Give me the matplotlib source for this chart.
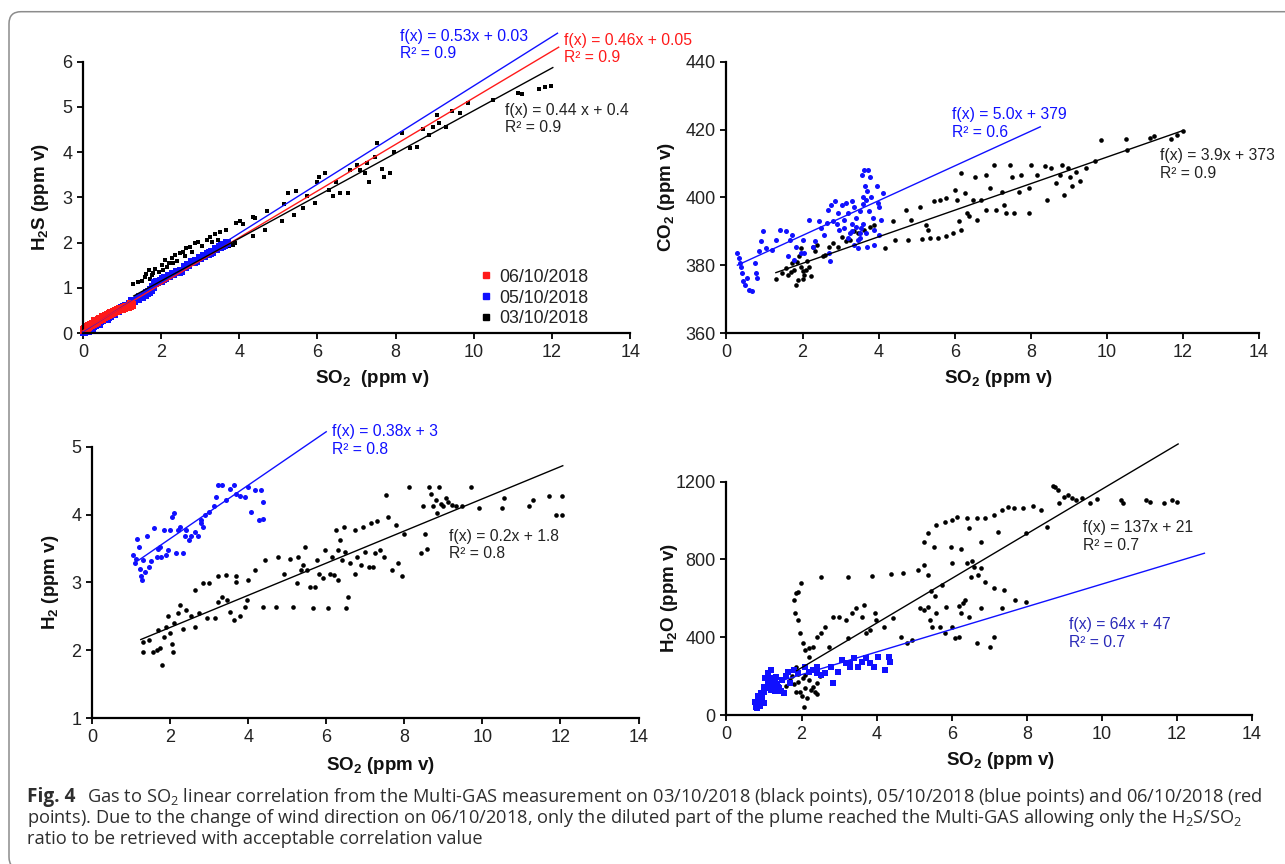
import matplotlib
matplotlib.use('Agg')
import matplotlib.pyplot as plt
from matplotlib.patches import FancyBboxPatch
from matplotlib.lines import Line2D
import numpy as np

# ---------------- data ----------------
h2s_black_pts = [(1.29,1.08),(1.42,1.13),(1.50,1.15),(1.59,1.24),(1.68,1.39),(1.76,1.28),(1.85,1.42),(1.94,1.35),
                 (2.02,1.50),(2.10,1.61),(2.19,1.54),(2.27,1.65),(2.36,1.72),(2.48,1.76),(2.57,1.79),(2.65,1.87),
                 (2.74,1.90),(2.87,1.98),(2.95,2.01),(3.17,2.05),(3.25,2.12),(3.38,2.20),(3.50,2.23),(3.67,2.27),
                 (3.84,1.94),(3.90,1.98),(3.75,1.92),(1.62,1.30),(1.72,1.20),(1.80,1.33),(2.05,1.40),(2.15,1.45),
                 (2.30,1.55),(2.40,1.60),(2.60,1.70),(2.80,1.80),(3.05,1.92),(3.30,2.02),(3.45,2.05),(3.92,2.43),
                 (4.03,2.47),(4.10,2.42),(4.35,2.14),(4.36,2.57),(4.40,2.55),(4.66,2.27),(4.72,2.69),(5.09,2.47),
                 (5.14,2.86),(5.25,3.09),(5.41,2.61),(5.46,3.13),(5.62,2.76),(5.73,3.02),(5.94,2.87),(6.00,3.35),
                 (6.05,3.46),(6.20,3.54),(6.30,3.17),(6.40,3.02),(6.47,3.35),(6.57,3.09),(6.79,3.09),(6.84,3.61),
                 (7.00,3.72),(7.10,3.61),(7.21,3.54),(7.26,3.76),(7.32,3.33),(7.48,3.90),(7.53,4.20),(7.64,3.62),
                 (7.69,3.46),(7.85,3.54),(7.95,4.01),(8.17,4.42),(8.38,4.09),(8.54,4.12),(8.70,4.51),(8.86,4.38),
                 (8.96,4.56),(9.07,4.82),(9.12,4.64),(9.28,4.56),(9.44,4.90),(9.65,4.86),(9.86,5.08),(10.50,5.15),
                 (11.13,5.30),(11.24,5.28),(11.66,5.39),(11.82,5.43),(11.98,5.47)]
h2s_blue_x = [0.03,0.05,0.08,0.10,0.15,0.20,0.25,0.30,0.35,0.40,0.45,0.50,0.55,0.60,0.65,0.70,0.75,0.80,0.90,1.00,
              1.10,1.20,1.30,1.40,1.50,1.60,1.70,1.75,1.80,1.85,1.90,2.00,2.10,2.20,2.30,2.40,2.50,2.60,2.70,2.80,
              2.90,3.00,3.10,3.20,3.30,3.40,3.50,3.60,3.68,0.12,0.22,0.42,0.62,1.05,1.25,1.45,1.65,2.05,2.45,2.85,3.25,3.55]
h2s_blue_y = [0.03,0.05,0.06,0.08,0.10,0.13,0.15,0.18,0.21,0.23,0.26,0.28,0.31,0.33,0.36,0.38,0.41,0.43,0.48,0.55,
              0.60,0.65,0.70,0.76,0.80,0.85,0.90,0.95,1.02,1.10,1.12,1.16,1.21,1.26,1.30,1.34,1.38,1.45,1.50,1.56,
              1.60,1.65,1.70,1.75,1.80,1.86,1.90,1.95,1.98,0.04,0.10,0.20,0.30,0.58,0.71,0.79,0.88,1.20,1.36,1.58,1.78,1.93]
h2s_red_x = [0.02,0.05,0.08,0.10,0.15,0.20,0.25,0.30,0.35,0.40,0.45,0.50,0.55,0.60,0.65,0.70,0.75,0.80,0.85,0.90,
             0.95,1.00,1.05,1.10,1.15,1.20,1.22,1.25,0.12,0.32,0.52,0.72]
h2s_red_y = [0.06,0.08,0.10,0.12,0.15,0.17,0.20,0.22,0.25,0.28,0.30,0.32,0.35,0.38,0.40,0.42,0.45,0.46,0.48,0.50,
             0.52,0.53,0.55,0.57,0.58,0.60,0.65,0.62,0.14,0.26,0.36,0.45]

co2_blue_pts = [(0.29,383.6),(0.32,382.1),(0.35,380.6),(0.38,379.6),(0.41,377.7),(0.43,375.2),(0.49,374.2),(0.54,376.2),
                (0.59,372.8),(0.67,372.3),(0.74,380.6),(0.78,377.7),(0.81,376.2),(0.86,384.1),(0.92,387.0),(0.95,390.0),
                (1.03,385.1),(1.19,384.6),(1.30,387.5),(1.41,390.5),(1.57,390.0),(1.62,382.6),(1.68,387.5),(1.73,389.0),
                (1.78,381.6),(1.84,385.5),(1.95,383.6),(2.00,387.5),(2.05,383.6),(2.16,393.4),(2.27,385.5),(2.32,387.0),
                (2.43,392.9),(2.49,390.9),(2.57,389.0),(2.65,392.4),(2.70,383.6),(2.73,381.1),(2.68,396.3),(2.76,397.8),
                (2.86,398.8),(2.92,395.4),(2.97,390.5),(3.03,397.8),(3.08,393.4),(3.14,398.3),(3.19,395.4),(3.24,389.4),
                (3.30,398.8),(3.35,397.3),(3.41,391.4),(3.46,387.5),(3.51,389.4),(3.57,406.6),(3.62,408.1),(3.65,403.2),
                (3.68,399.3),(3.70,385.5),(3.73,408.1),(3.78,406.1),(3.84,393.9),(3.89,390.5),(3.95,403.2),(3.98,398.3),
                (4.02,397.3),(4.05,393.4),(4.11,401.2),(4.00,389.0),(3.89,386.0),(3.68,389.4),(3.30,392.0),(3.40,394.0),
                (3.50,396.0),(3.55,391.0),(3.60,398.0),(3.20,388.0),(3.35,386.0),(3.45,385.0),(3.60,400.0),(3.70,402.0),
                (3.75,396.0),(3.80,400.0),(3.50,388.0),(3.30,390.0),(2.80,393.0),(2.90,392.0),(3.10,391.0),(3.60,392.0)]
co2_black_pts = [(1.30,375.9),(1.46,377.7),(1.57,379.1),(1.62,377.2),(1.73,380.6),(1.78,378.6),(1.84,374.2),(1.89,375.7),
                 (1.92,382.6),(1.95,379.6),(2.00,378.2),(2.05,377.2),(2.11,381.1),(2.16,379.6),(2.22,376.7),(2.27,385.5),
                 (2.32,384.1),(2.38,386.0),(2.54,382.6),(2.59,383.1),(2.70,385.5),(2.81,386.5),(2.92,385.5),(3.03,388.4),
                 (3.14,387.0),(3.24,387.5),(3.35,390.0),(3.46,389.4),(3.62,390.5),(3.78,391.4),(3.89,391.9),(4.16,385.0),
                 (4.38,392.9),(4.43,387.5),(4.73,396.3),(4.76,387.5),(4.86,393.4),(5.08,397.3),(5.14,387.7),(5.24,391.9),
                 (5.30,390.5),(5.35,388.0),(5.46,398.8),(5.57,388.0),(5.62,399.3),(5.78,399.8),(5.78,388.5),(5.95,389.4),
                 (6.00,402.2),(6.05,399.3),(6.11,392.9),(6.16,407.1),(6.16,390.5),(6.27,401.2),(6.32,395.4),(6.38,394.4),
                 (6.49,399.3),(6.54,406.1),(6.59,393.4),(6.70,399.3),(6.81,406.6),(6.81,396.3),(6.92,402.7),(7.03,409.6),
                 (7.08,396.3),(7.24,401.7),(7.30,397.8),(7.35,395.4),(7.46,409.6),(7.51,406.1),(7.57,395.4),(7.68,401.7),
                 (7.73,406.6),(7.95,395.4),(7.95,402.7),(8.00,409.6),(8.16,406.6),(8.38,409.1),(8.43,399.3),(8.54,408.6),
                 (8.65,404.2),(8.76,406.6),(8.81,409.6),(8.86,400.8),(8.97,408.6),(9.03,406.1),(9.08,403.2),(9.19,407.6),
                 (9.30,404.7),(9.46,408.6),(9.68,410.6),(9.84,417.0),(10.49,417.3),(10.54,414.1),(11.14,417.5),(11.24,418.0),
                 (11.68,417.3),(11.84,418.5),(12.00,419.7),(1.70,378.0),(1.85,381.0),(2.00,376.0),(2.10,378.5),(1.95,385.0)]

h2_blue_pts = [(1.04,3.40),(1.09,3.28),(1.15,3.64),(1.20,3.53),(1.23,3.20),(1.27,3.04),(1.31,3.33),(1.36,3.16),
               (1.41,3.68),(1.46,3.23),(1.52,3.31),(1.59,3.80),(1.66,3.38),(1.73,3.53),(1.78,3.38),(1.84,3.78),
               (1.89,3.40),(1.95,3.48),(2.00,3.78),(2.05,3.97),(2.10,4.02),(2.16,3.43),(2.21,3.78),(2.26,3.82),
               (2.32,3.43),(2.37,3.68),(2.42,3.78),(2.48,3.63),(2.53,3.68),(2.64,3.75),(2.72,3.68),(2.79,3.92),
               (2.85,3.82),(2.90,3.99),(3.01,4.04),(3.12,4.12),(3.17,4.26),(3.22,4.43),(3.32,4.43),(3.43,4.21),
               (3.54,4.38),(3.65,4.43),(3.80,4.28),(3.91,4.26),(3.99,4.41),(4.07,4.04),(4.18,4.36),(4.28,3.92),
               (4.34,4.36),(4.37,4.19),(4.39,3.94),(1.12,3.35),(1.25,3.10),(1.70,3.50),(2.80,3.88),(3.70,4.30)]
h2_black_pts = [(1.31,2.13),(1.31,1.98),(1.47,2.15),(1.57,1.98),(1.66,2.01),(1.68,2.30),(1.73,2.03),(1.79,1.79),
                (1.84,2.20),(1.89,2.35),(1.95,2.50),(2.00,2.25),(2.05,2.10),(2.08,1.98),(2.10,2.40),(2.21,2.55),
                (2.26,2.67),(2.32,2.31),(2.42,2.60),(2.53,2.50),(2.64,2.89),(2.64,2.35),(2.74,2.55),(2.85,2.99),
                (2.95,2.47),(3.01,2.99),(3.15,2.47),(3.22,3.09),(3.22,2.72),(3.32,2.79),(3.43,3.11),(3.46,2.74),
                (3.54,2.57),(3.65,2.45),(3.70,3.01),(3.70,3.09),(3.80,2.50),(3.91,2.64),(3.96,2.74),(3.99,3.04),
                (4.18,3.18),(4.39,2.64),(4.44,3.33),(4.71,2.64),(4.76,3.38),(4.92,3.13),(5.08,3.35),(5.14,2.64),
                (5.24,2.99),(5.29,3.38),(5.35,3.18),(5.40,3.26),(5.46,3.53),(5.50,3.18),(5.59,2.94),(5.66,2.62),
                (5.72,2.94),(5.77,3.33),(5.82,3.13),(5.93,3.06),(5.98,3.48),(6.04,2.62),(6.09,3.13),(6.14,3.38),
                (6.20,3.11),(6.25,3.77),(6.30,3.48),(6.30,3.04),(6.36,3.62),(6.41,3.33),(6.46,3.82),(6.48,3.45),
                (6.51,2.62),(6.57,2.79),(6.62,3.28),(6.73,3.13),(6.73,3.77),(6.78,3.38),(6.89,3.26),(6.94,3.82),
                (6.99,3.45),(7.10,3.23),(7.15,3.87),(7.21,3.23),(7.26,3.43),(7.31,3.90),(7.37,3.48),(7.47,3.38),
                (7.52,4.29),(7.57,3.97),(7.68,3.18),(7.79,3.85),(7.84,3.28),(7.95,3.09),(8.00,3.72),(8.11,4.41),
                (8.43,3.43),(8.48,4.12),(8.53,3.72),(8.58,3.50),(8.64,4.41),(8.69,4.31),(8.74,4.12),(8.80,4.21),
                (8.85,4.02),(8.90,4.41),(8.95,4.16),(9.00,4.12),(9.06,4.24),(9.12,4.19),(9.22,4.14),(9.33,4.12),
                (9.49,4.12),(9.70,4.40),(9.91,4.09),(10.55,4.25),(10.50,4.09),(11.19,4.12),(11.30,4.21),(11.72,4.28),
                (11.88,3.99),(12.04,4.28),(12.04,3.99)]

h2o_black_pts = [(1.92,171),(1.97,120),(2.03,189),(2.06,43),(2.08,206),(2.14,86),(2.19,300),(2.30,146),(2.36,120),
                 (2.41,163),(1.86,249),(1.84,523),(1.86,626),(1.92,634),(1.99,677),(1.81,591),(1.92,489),(1.97,420),
                 (2.03,369),(2.08,334),(2.19,343),(2.30,351),(2.41,403),(2.52,420),(2.63,454),(2.74,351),(2.85,506),
                 (3.01,506),(3.18,489),(3.23,394),(3.34,523),(3.45,549),(3.61,506),(3.67,566),(3.72,420),(3.83,437),
                 (3.96,523),(3.99,489),(4.21,454),(4.43,497),(4.65,403),(4.82,369),(4.93,386),(5.15,549),(5.26,540),
                 (5.37,557),(5.43,489),(5.48,454),(5.59,523),(5.70,454),(5.81,420),(5.86,557),(6.02,454),(6.08,394),
                 (6.19,403),(6.24,523),(6.30,574),(6.35,591),(6.46,506),(6.79,549),(7.12,403),(7.35,549),(7.68,591),
                 (7.97,583),(6.68,369),(7.01,351),(2.52,711),(3.23,711),(3.89,715),(4.38,725),(4.71,732),(5.09,746),
                 (5.37,720),(5.26,771),(5.75,669),(6.02,780),(6.41,780),(6.52,711),(6.79,754),(6.90,686),(7.12,651),
                 (7.39,643),(5.26,891),(5.37,938),(5.54,866),(5.59,977),(5.81,994),(5.97,866),(6.02,1003),(6.13,1020),
                 (6.24,852),(6.41,1011),(6.46,960),(6.68,1011),(6.79,891),(6.90,1011),(7.12,1029),(7.23,943),(7.34,1054),
                 (7.50,1071),(7.67,1063),(7.89,1067),(8.16,1075),(8.38,1054),(8.55,969),(7.99,934),(8.71,1178),(8.76,1174),
                 (8.82,1157),(8.87,1089),(8.98,1123),(9.09,1131),(9.20,1114),(9.31,1106),(9.47,1114),(9.69,1089),
                 (9.86,1109),(10.52,1106),(10.57,1092),(11.17,1106),(11.28,1097),(11.66,1092),(11.88,1106),(11.99,1097),
                 (1.60,150),(1.70,180),(1.75,200),(1.80,160),(1.85,120),(1.90,210),(2.00,100),(2.10,140),(2.20,180),
                 (2.25,130),(2.40,110),(2.50,200),(6.55,790),(6.60,760),(6.70,720),(5.45,640),(5.55,610),(6.20,560)]
h2o_blue_pts = [(0.77,69),(0.82,34),(0.88,86),(0.93,111),(0.99,146),(1.04,189),(1.10,214),(1.15,171),(1.20,231),
                (1.26,154),(1.31,197),(1.37,146),(1.48,180),(1.53,111),(1.64,223),(1.70,163),(1.81,231),(1.92,214),
                (2.08,249),(2.19,223),(2.30,231),(2.41,249),(2.52,206),(2.63,214),(2.79,249),(2.85,163),(2.96,223),
                (3.07,283),(3.18,266),(3.29,249),(3.40,291),(3.50,249),(3.61,274),(3.72,291),(3.83,266),(3.94,249),
                (4.05,300),(4.22,231),(4.33,300),(4.36,274),(0.80,40),(0.85,55),(0.90,70),(0.95,95),(1.00,120),
                (1.05,140),(1.10,160),(1.15,150),(1.20,175),(1.25,190),(1.30,170),(1.35,160),(1.40,140),(1.45,125),
                (1.00,60),(0.90,45),(0.85,100),(1.10,200),(1.20,130),(1.30,125),(1.60,200),(2.40,215),(3.30,270)]

# fit lines as drawn (end points)
h2s_fit_blue = [(0.0, 0.03), (12.14, 6.63)]
h2s_fit_red = [(0.0, 0.05), (12.17, 6.32)]
h2s_fit_black = [(1.30, 0.82), (12.02, 5.87)]
co2_fit_blue = [(0.29, 380.0), (8.25, 420.8)]
co2_fit_black = [(1.30, 377.8), (12.0, 419.7)]
h2_fit_blue = [(1.20, 3.33), (6.00, 5.22)]
h2_fit_black = [(1.25, 2.16), (12.06, 4.72)]
h2o_fit_black = [(1.87, 228), (12.03, 1394)]
h2o_fit_blue = [(0.99, 149), (12.73, 832)]

legend_labels = ['06/10/2018', '05/10/2018', '03/10/2018']
x_ticks = [0, 2, 4, 6, 8, 10, 12, 14]
h2s_ticks = [0, 1, 2, 3, 4, 5, 6]
co2_ticks = [360, 380, 400, 420, 440]
h2_ticks = [1, 2, 3, 4, 5]
h2o_ticks = [0, 400, 800, 1200]

caption_bold = 'Fig. 4'
caption_lines = [
    'Gas to SO$_\\mathrm{2}$ linear correlation from the Multi-GAS measurement on 03/10/2018 (black points), '
    '05/10/2018 (blue points) and 06/10/2018 (red',
    'points). Due to the change of wind direction on 06/10/2018, only the diluted part of the plume reached the '
    'Multi-GAS allowing only the H$_\\mathrm{2}$S/SO$_\\mathrm{2}$',
    'ratio to be retrieved with acceptable correlation value',
]

# ---------------- style ----------------
SANS = 'Liberation Sans'
plt.rcParams['font.family'] = [SANS, 'DejaVu Sans']
plt.rcParams['mathtext.fontset'] = 'custom'
plt.rcParams['mathtext.rm'] = 'Open Sans'
plt.rcParams['mathtext.bf'] = 'Liberation Sans:bold'

BLUE = '#1010ff'
RED = '#ff1a1a'
BLACK = '#000000'
TXT = '#222222'

W, H = 1285, 864
fig = plt.figure(figsize=(W / 100, H / 100), dpi=100)
fig.patch.set_facecolor('white')


def px_ax(l, t, r, b):
    return fig.add_axes([l / W, 1 - b / H, (r - l) / W, (b - t) / H])


def style(ax, yt, ylim):
    ax.set_xlim(0, 14)
    ax.set_ylim(*ylim)
    ax.set_xticks(x_ticks)
    ax.set_yticks(yt)
    for s in ['top', 'right']:
        ax.spines[s].set_visible(False)
    for s in ['left', 'bottom']:
        ax.spines[s].set_linewidth(1.6)
    ax.tick_params(direction='out', length=4.5, width=1.3, labelsize=13, labelcolor=TXT,
                   color='black', pad=3.2)


def fline(ax, pts, color):
    xs, ys = zip(*pts)
    ax.plot(xs, ys, color=color, lw=1.0, clip_on=False, zorder=3)


def ftext(xp, yp, s, color, size=11.3):
    fig.text(xp / W, 1 - yp / H, s, color=color, fontsize=size, va='center', ha='left')


LBL = dict(fontweight='bold', family=SANS, color='#111111', fontsize=13.5)

# Panel 1: H2S
ax1 = px_ax(82.9, 61.7, 630.2, 333)
style(ax1, h2s_ticks, (0, 6))
kb = np.array(h2s_black_pts).T
ax1.scatter(kb[0], kb[1], marker='s', s=12, color=BLACK, lw=0, zorder=2)
ax1.scatter(h2s_blue_x, h2s_blue_y, marker='s', s=30, color=BLUE, lw=0, zorder=2, clip_on=False)
ax1.scatter(h2s_red_x, h2s_red_y, marker='s', s=30, color=RED, lw=0, zorder=2.5, clip_on=False)
fline(ax1, h2s_fit_blue, BLUE)
fline(ax1, h2s_fit_red, RED)
fline(ax1, h2s_fit_black, BLACK)
ax1.set_ylabel(r'H$_\mathbf{2}$S (ppm v)', **LBL)
ax1.yaxis.set_label_coords(-0.059, 0.5)
ax1.set_xlabel(r'SO$_\mathbf{2}$  (ppm v)', **LBL)
ax1.xaxis.set_label_coords(0.528, -0.129)
handles = [Line2D([], [], ls='none', marker='s', ms=3.8, color=c) for c in (RED, BLUE, BLACK)]
ax1.legend(handles, legend_labels, loc='center left', bbox_to_anchor=(480.5 / W, 1 - 298 / H),
           bbox_transform=fig.transFigure, frameon=False, handlelength=0.6, handletextpad=0.45,
           labelspacing=0.22, borderpad=0, borderaxespad=0, prop={'family': SANS, 'size': 12.8},
           labelcolor=TXT)
ftext(400, 36, 'f(x) = 0.53x + 0.03', BLUE)
ftext(400, 53.5, 'R² = 0.9', BLUE)
ftext(563.8, 40, 'f(x) = 0.46x + 0.05', RED)
ftext(563.8, 57, 'R² = 0.9', RED)
ftext(505, 111, 'f(x) = 0.44 x + 0.4', TXT)
ftext(505, 128, 'R² = 0.9', TXT)

# Panel 2: CO2
ax2 = px_ax(726.4, 61.7, 1259.1, 333)
style(ax2, co2_ticks, (360, 440))
cb = np.array(co2_black_pts).T
cu = np.array(co2_blue_pts).T
ax2.scatter(cb[0], cb[1], s=11, color=BLACK, lw=0, zorder=2)
ax2.scatter(cu[0], cu[1], s=13, color=BLUE, lw=0, zorder=2.2)
fline(ax2, co2_fit_blue, BLUE)
fline(ax2, co2_fit_black, BLACK)
ax2.set_ylabel(r'CO$_\mathbf{2}$ (ppm v)', **LBL)
ax2.yaxis.set_label_coords(-0.093, 0.5)
ax2.set_xlabel(r'SO$_\mathbf{2}$ (ppm v)', **LBL)
ax2.xaxis.set_label_coords(0.5115, -0.129)
ftext(951.8, 115, 'f(x) = 5.0x + 379', BLUE)
ftext(951.8, 132.7, 'R² = 0.6', BLUE)
ftext(1160.4, 155.7, 'f(x) = 3.9x + 373', TXT)
ftext(1160.4, 173.3, 'R² = 0.9', TXT)

# Panel 3: H2
ax3 = px_ax(92.0, 446.7, 638.5, 718.3)
style(ax3, h2_ticks, (1, 5))
hb = np.array(h2_black_pts).T
hu = np.array(h2_blue_pts).T
ax3.scatter(hb[0], hb[1], s=11, color=BLACK, lw=0, zorder=2)
ax3.scatter(hu[0], hu[1], s=13, color=BLUE, lw=0, zorder=2)
fline(ax3, h2_fit_blue, BLUE)
fline(ax3, h2_fit_black, BLACK)
ax3.set_ylabel(r'H$_\mathbf{2}$ (ppm v)', **LBL)
ax3.yaxis.set_label_coords(-0.0576, 0.5)
ax3.set_xlabel(r'SO$_\mathbf{2}$ (ppm v)', **LBL)
ax3.xaxis.set_label_coords(0.528, -0.135)
ftext(331.7, 431.7, 'f(x) = 0.38x + 3', BLUE)
ftext(331.7, 449, 'R² = 0.8', BLUE)
ftext(449, 536.7, 'f(x) = 0.2x + 1.8', TXT)
ftext(449, 554, 'R² = 0.8', TXT)

# Panel 4: H2O
ax4 = px_ax(726.4, 481.7, 1252.1, 715)
style(ax4, h2o_ticks, (0, 1200))
wb = np.array(h2o_black_pts).T
wu = np.array(h2o_blue_pts).T
ax4.scatter(wb[0], wb[1], s=11, color=BLACK, lw=0, zorder=2)
ax4.scatter(wu[0], wu[1], marker='s', s=16, color=BLUE, lw=0, zorder=2.2)
fline(ax4, h2o_fit_black, BLACK)
fline(ax4, h2o_fit_blue, BLUE)
ax4.set_ylabel(r'H$_\mathbf{2}$O (ppm v)', **LBL)
ax4.yaxis.set_label_coords(-0.089, 0.5)
ax4.set_xlabel(r'SO$_\mathbf{2}$ (ppm v)', **LBL)
ax4.xaxis.set_label_coords(0.522, -0.15)
ftext(1083, 527.7, 'f(x) = 137x + 21', TXT)
ftext(1083, 545, 'R² = 0.7', TXT)
ftext(1069, 625, 'f(x) = 64x + 47', '#2a2ab8')
ftext(1069, 642.3, 'R² = 0.7', '#2a2ab8')

# frame
frame = FancyBboxPatch((9 / 100, -0.05), 13.3, (H - 11.7) / 100 + 0.05,
                       boxstyle='round,pad=0,rounding_size=0.12', transform=fig.dpi_scale_trans,
                       fill=False, ec='#8c8c8c', lw=1.1, clip_on=False)
fig.patches.append(frame)

# caption, sized to span the same width as in the figure
CAP = dict(color='#2e2e2e', va='baseline', ha='left', family=['Open Sans', 'DejaVu Sans'])
renderer = fig.canvas.get_renderer()
first = fig.text(87 / W, 1 - 801.7 / H, caption_lines[0], fontsize=13, **CAP)
wpx = first.get_window_extent(renderer).width
fs = 13 * (1263 - 87) / wpx
first.set_fontsize(fs)
fig.text(27 / W, 1 - 801.7 / H, caption_bold, fontweight='bold', fontsize=fs * 1.04, **CAP)
fig.text(27 / W, 1 - 823 / H, caption_lines[1], fontsize=fs, **CAP)
fig.text(27 / W, 1 - 844 / H, caption_lines[2], fontsize=fs, **CAP)

fig.savefig('out.png', dpi=100, facecolor='white')
